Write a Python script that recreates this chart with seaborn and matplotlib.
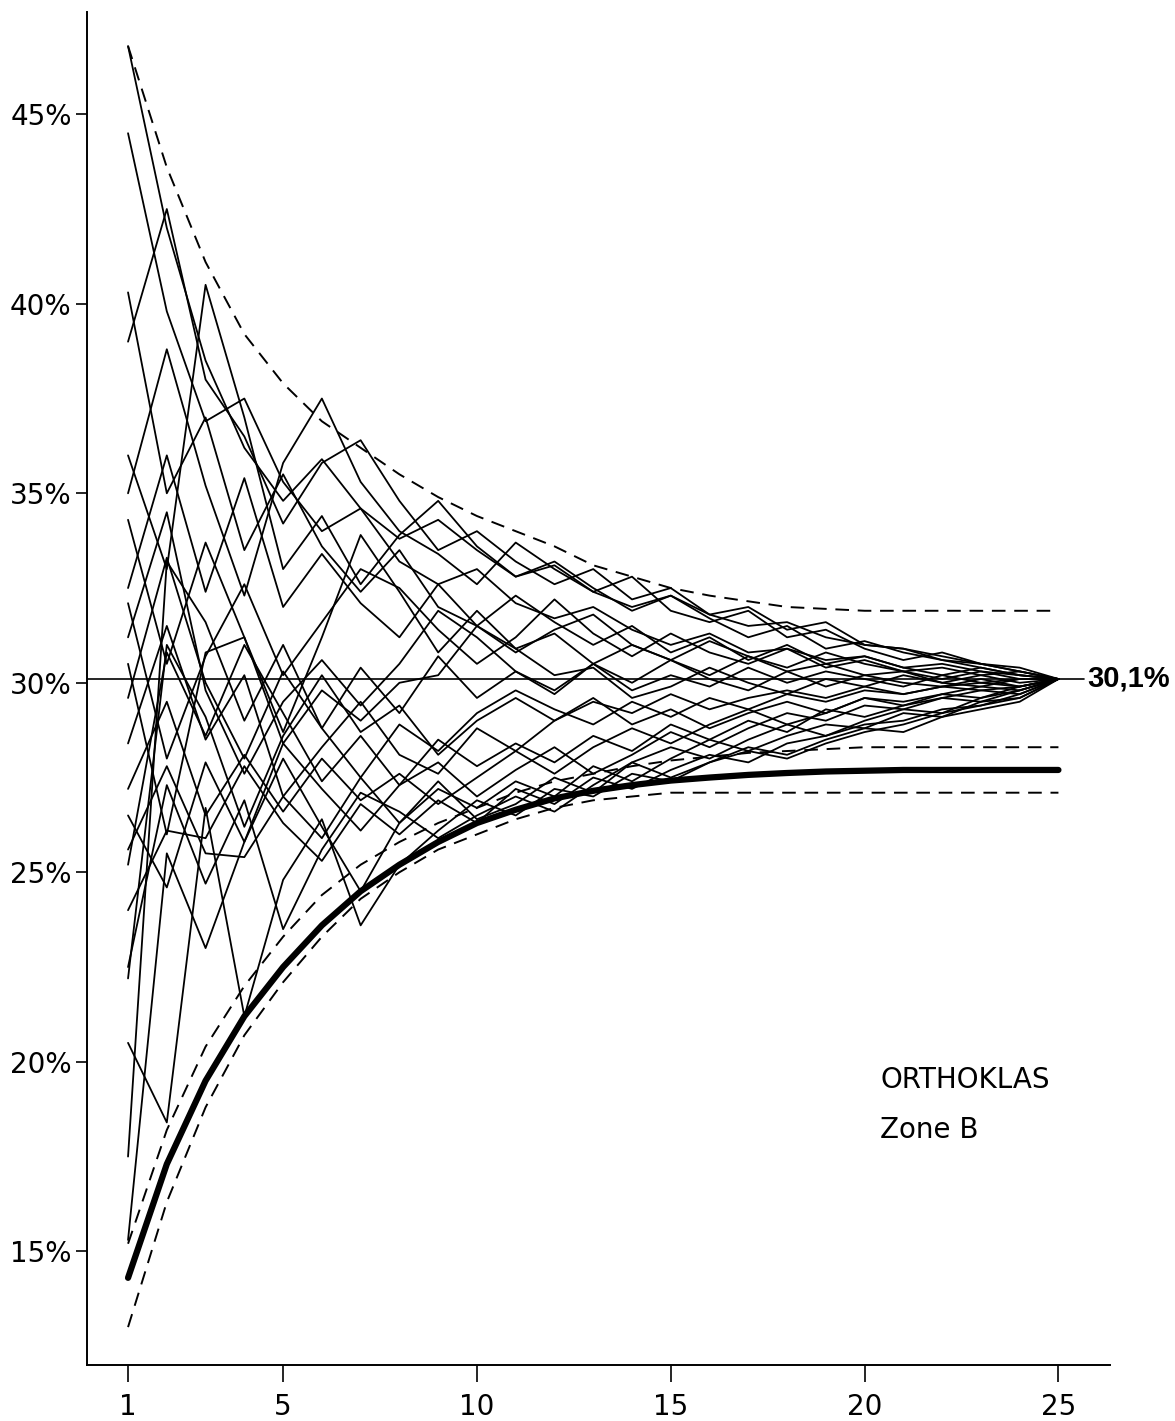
import numpy as np
import pandas as pd
import seaborn as sns
import matplotlib.pyplot as plt

# number of samples (x axis)
n = list(range(1, 26))

# running means of the individual sample series
series = [
    [46.8, 42.0, 38.5, 36.2, 34.8, 35.9, 34.6, 33.8, 34.3, 33.5, 32.8, 33.1, 32.4, 32.0, 32.3, 31.8, 31.5, 31.6, 31.2, 31.0, 30.9, 30.6, 30.5, 30.3, 30.1],
    [44.5, 39.8, 36.9, 37.5, 35.3, 34.0, 34.6, 33.2, 32.6, 33.0, 32.1, 31.7, 32.0, 31.4, 31.0, 31.3, 30.8, 30.9, 30.6, 30.7, 30.4, 30.5, 30.3, 30.2, 30.1],
    [40.3, 35.0, 37.0, 33.5, 35.5, 33.6, 32.4, 33.5, 32.0, 31.5, 32.3, 31.6, 31.0, 31.5, 30.8, 31.2, 30.6, 31.0, 30.5, 30.7, 30.4, 30.2, 30.4, 30.2, 30.1],
    [39.0, 42.5, 38.0, 36.5, 34.2, 35.8, 36.4, 34.8, 33.5, 34.0, 33.2, 32.6, 33.0, 32.2, 32.5, 31.8, 32.0, 31.4, 31.6, 31.0, 30.9, 30.7, 30.5, 30.4, 30.1],
    [36.0, 33.0, 40.5, 37.0, 33.0, 34.4, 32.6, 33.9, 34.8, 33.6, 32.8, 33.2, 32.5, 31.9, 32.3, 31.7, 31.2, 31.5, 30.9, 31.1, 30.8, 30.6, 30.4, 30.2, 30.1],
    [35.0, 38.8, 35.2, 32.3, 35.8, 37.5, 35.3, 34.0, 33.4, 32.6, 33.7, 33.0, 32.4, 32.8, 31.9, 31.6, 31.9, 31.2, 31.4, 30.9, 30.6, 30.8, 30.5, 30.3, 30.1],
    [34.3, 30.5, 33.7, 31.2, 28.7, 31.2, 33.9, 32.4, 30.8, 31.9, 30.9, 31.3, 30.5, 31.0, 30.6, 30.2, 30.7, 30.3, 30.5, 30.2, 30.3, 30.0, 30.2, 30.0, 30.1],
    [32.5, 36.0, 32.4, 35.4, 32.0, 33.4, 32.1, 31.2, 32.6, 31.5, 30.8, 31.4, 31.8, 31.0, 30.6, 31.1, 30.7, 30.4, 30.8, 30.5, 30.3, 30.4, 30.2, 30.3, 30.1],
    [32.1, 28.0, 30.7, 32.6, 30.2, 31.6, 33.0, 32.5, 31.4, 30.5, 31.2, 32.2, 31.3, 30.7, 31.3, 30.8, 30.5, 30.9, 30.4, 30.6, 30.3, 30.1, 30.3, 30.1, 30.1],
    [31.2, 34.5, 29.8, 27.6, 29.5, 30.6, 29.4, 30.5, 31.9, 31.2, 30.3, 29.8, 30.5, 30.0, 30.6, 30.1, 29.8, 30.3, 29.9, 30.2, 30.0, 29.9, 30.1, 29.9, 30.1],
    [30.5, 26.0, 30.8, 31.2, 28.4, 29.8, 29.0, 30.0, 30.2, 31.5, 30.9, 30.2, 30.4, 29.6, 29.9, 30.4, 30.0, 29.7, 30.1, 29.9, 30.2, 30.0, 29.9, 30.1, 30.1],
    [29.6, 33.3, 30.0, 28.0, 30.3, 28.8, 27.5, 28.9, 28.2, 29.2, 29.8, 29.3, 28.9, 29.5, 29.1, 29.6, 29.3, 29.7, 29.5, 29.8, 29.7, 29.9, 29.8, 29.9, 30.1],
    [28.4, 31.5, 28.5, 30.2, 27.0, 28.3, 29.5, 28.1, 27.6, 28.8, 28.2, 29.0, 29.6, 28.9, 29.3, 28.8, 29.2, 29.5, 29.2, 29.6, 29.5, 29.7, 29.9, 29.8, 30.1],
    [27.2, 29.5, 26.5, 28.1, 26.6, 28.0, 26.9, 27.6, 26.8, 27.5, 28.2, 27.6, 28.3, 28.8, 28.4, 28.9, 29.3, 28.9, 29.2, 29.6, 29.4, 29.7, 29.6, 29.9, 30.1],
    [26.5, 24.6, 27.9, 25.8, 28.4, 27.2, 26.1, 27.3, 27.9, 27.0, 27.7, 28.3, 27.6, 28.1, 28.7, 28.3, 28.8, 29.2, 29.0, 29.4, 29.3, 29.6, 29.8, 29.7, 30.1],
    [25.6, 27.8, 25.5, 25.4, 27.0, 25.9, 27.5, 26.3, 27.2, 26.7, 27.4, 27.0, 27.8, 27.4, 28.0, 28.5, 28.2, 28.6, 28.9, 28.8, 29.2, 29.1, 29.5, 29.6, 30.1],
    [25.2, 30.8, 28.6, 31.0, 29.2, 27.4, 28.6, 27.3, 28.5, 27.8, 28.4, 27.9, 28.6, 28.2, 28.9, 28.5, 29.0, 28.7, 29.3, 29.1, 29.4, 29.6, 29.5, 29.8, 30.1],
    [24.0, 26.1, 25.9, 27.8, 26.3, 25.3, 26.8, 26.0, 26.9, 26.3, 27.2, 26.8, 27.5, 27.2, 27.7, 28.1, 27.9, 28.4, 28.6, 28.9, 29.0, 29.3, 29.4, 29.7, 30.1],
    [22.5, 27.3, 24.7, 26.9, 23.5, 25.6, 27.1, 26.6, 25.9, 26.5, 27.0, 26.6, 27.3, 27.9, 27.5, 27.9, 28.3, 28.1, 28.5, 28.8, 28.7, 29.1, 29.3, 29.5, 30.1],
    [22.2, 31.0, 29.1, 26.2, 28.6, 30.2, 28.7, 29.4, 28.1, 29.0, 29.6, 29.0, 29.5, 29.2, 29.7, 29.3, 29.6, 29.8, 29.6, 29.9, 29.7, 29.9, 30.0, 29.9, 30.1],
    [20.5, 18.4, 26.7, 21.2, 24.8, 26.4, 23.6, 25.2, 26.1, 26.9, 26.5, 27.2, 27.0, 27.6, 27.4, 27.9, 28.2, 28.0, 28.4, 28.7, 28.9, 29.2, 29.4, 29.6, 30.1],
    [17.5, 33.2, 31.6, 29.0, 31.0, 28.8, 30.4, 29.2, 30.7, 29.6, 30.3, 29.7, 30.5, 29.8, 30.2, 29.9, 30.4, 30.0, 30.3, 30.1, 29.9, 30.2, 30.0, 30.1, 30.1],
    [15.3, 25.5, 23.0, 25.8, 28.0, 26.2, 24.5, 26.3, 27.4, 26.4, 26.8, 27.5, 27.1, 27.9, 28.3, 28.0, 28.5, 28.9, 28.6, 29.0, 29.3, 29.2, 29.6, 29.8, 30.1],
]

# dashed envelope curves and the heavy curve
upper_env = [46.8, 43.6, 41.1, 39.2, 37.9, 36.9, 36.2, 35.5, 34.9, 34.4, 34.0, 33.6, 33.1, 32.8, 32.5, 32.3, 32.15, 32.0, 31.95, 31.9, 31.9, 31.9, 31.9, 31.9, 31.9]
lower_env_a = [15.2, 18.2, 20.4, 22.0, 23.3, 24.4, 25.2, 25.8, 26.3, 26.7, 27.1, 27.4, 27.6, 27.8, 27.95, 28.05, 28.15, 28.2, 28.25, 28.3, 28.3, 28.3, 28.3, 28.3, 28.3]
lower_env_b = [13.0, 16.3, 18.8, 20.7, 22.1, 23.3, 24.3, 25.0, 25.6, 26.0, 26.4, 26.7, 26.9, 27.0, 27.1, 27.1, 27.1, 27.1, 27.1, 27.1, 27.1, 27.1, 27.1, 27.1, 27.1]
heavy = [14.3, 17.3, 19.5, 21.2, 22.5, 23.6, 24.5, 25.2, 25.8, 26.3, 26.65, 26.95, 27.15, 27.3, 27.42, 27.5, 27.57, 27.62, 27.66, 27.68, 27.7, 27.7, 27.7, 27.7, 27.7]

final_value = 30.1
x_ticks = [1, 5, 10, 15, 20, 25]
y_ticks = [15, 20, 25, 30, 35, 40, 45]

df = pd.DataFrame(
    [(i, x, v) for i, s in enumerate(series) for x, v in zip(n, s)],
    columns=['line', 'n', 'value'],
)

sns.set_style('ticks')
plt.rcParams['font.family'] = ['DejaVu Sans']
plt.rcParams['text.color'] = 'black'
plt.rcParams['xtick.color'] = 'black'
plt.rcParams['ytick.color'] = 'black'
plt.rcParams['axes.edgecolor'] = 'black'

fig = plt.figure(figsize=(11.75, 14.21), dpi=100)
ax = fig.add_axes([0.074, 0.0394, 0.871, 0.9522])

sns.lineplot(data=df, x='n', y='value', units='line', estimator=None,
             color='black', linewidth=1.3, ax=ax)

for env in [upper_env, lower_env_a, lower_env_b]:
    sns.lineplot(x=n, y=env, color='black', linewidth=1.4, ax=ax)
    ax.lines[-1].set_dashes((7, 4.5))

sns.lineplot(x=n, y=heavy, color='black', linewidth=4.5, ax=ax)
ax.lines[-1].set_solid_capstyle('round')

ax.plot([-0.06, 25.65], [final_value, final_value], color='black', linewidth=1.2)
ax.text(25.75, final_value, '30,1%', fontsize=21, fontweight='bold',
        family='Liberation Sans', va='center', ha='left')

ax.text(20.4, 19.3, 'ORTHOKLAS', fontsize=20, ha='left', va='baseline')
ax.text(20.4, 18.0, 'Zone B', fontsize=20, ha='left', va='baseline')

ax.set_xlim(-0.06, 26.34)
ax.set_ylim(12.0, 47.7)
ax.set_xticks(x_ticks)
ax.set_xticklabels([str(t) for t in x_ticks])
ax.set_yticks(y_ticks)
ax.set_yticklabels([f'{t}%' for t in y_ticks])
ax.tick_params(axis='x', length=12, width=1.2, labelsize=20, pad=8)
ax.tick_params(axis='y', length=8, width=1.2, labelsize=20, pad=3)
ax.set_xlabel('')
ax.set_ylabel('')
for side in ['left', 'bottom']:
    ax.spines[side].set_linewidth(1.4)
sns.despine(ax=ax)

fig.savefig('out.png', dpi=100)
